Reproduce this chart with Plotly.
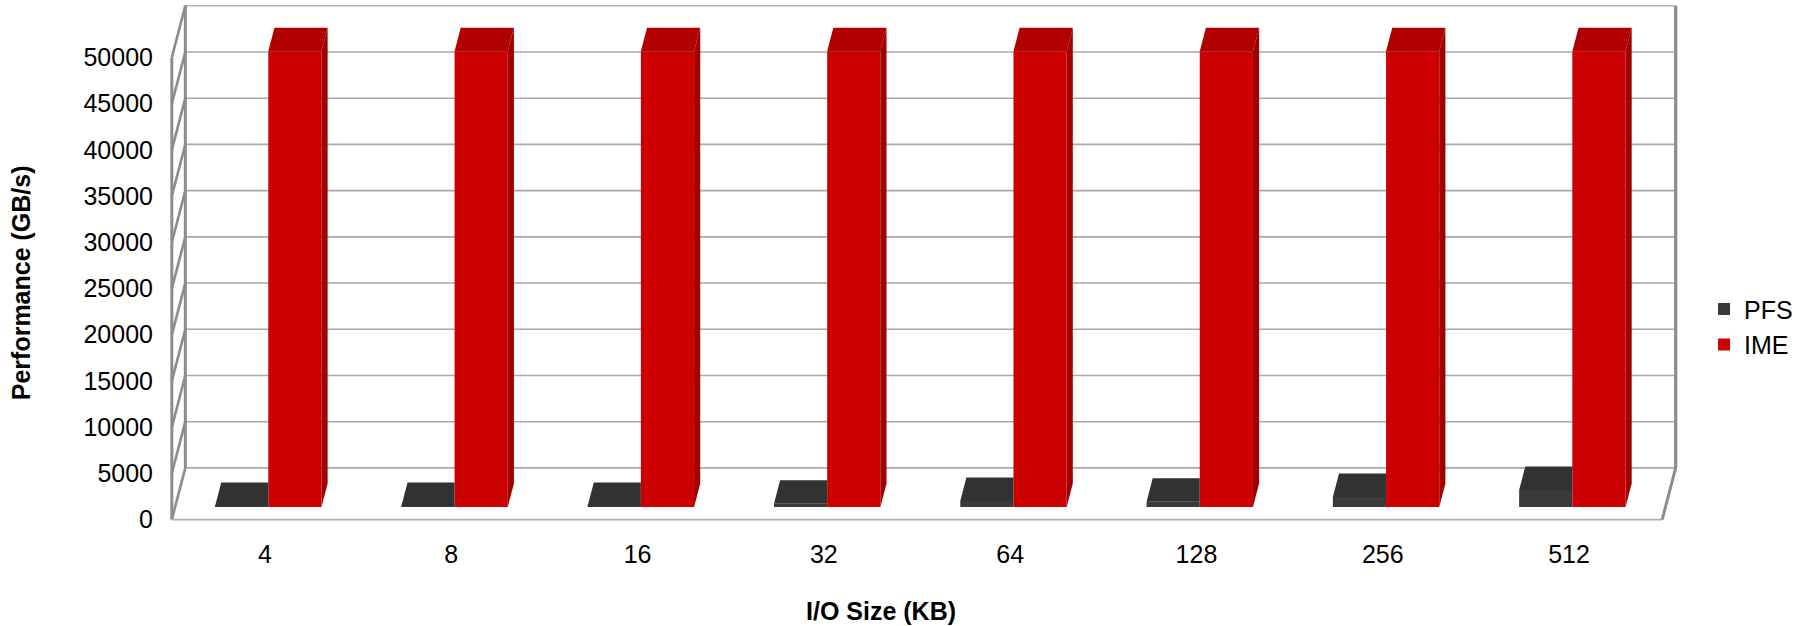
import plotly.graph_objects as go

# ---------------- data ----------------
CATEGORIES = ["4", "8", "16", "32", "64", "128", "256", "512"]
PFS = [100, 100, 110, 330, 650, 560, 1080, 1820]
IME = [49300, 49300, 49300, 49300, 49300, 49300, 49300, 49300]
Y_TICKS = [0, 5000, 10000, 15000, 20000, 25000, 30000, 35000, 40000, 45000, 50000]
SERIES_NAMES = ["PFS", "IME"]

# ---------------- geometry / style ----------------
W, H = 1810, 626
PX_PER_CAT = 186.3            # horizontal pixels per category (front plane)
PX_PER_VAL = 46.2 / 5000      # vertical pixels per value unit (front plane)
X0_PX = 264.9                 # pixel x of category 0 on front plane
Y0_PX = 519.3                 # pixel y of value 0 on front plane
DEPTH_DX = 13.5 / PX_PER_CAT  # oblique depth offset (category units) for full depth
DEPTH_DY = 51.6 / PX_PER_VAL  # oblique depth offset (value units) for full depth
F_FRONT, F_BACK = 0.245, 0.70 # depth of bar front / back faces
BAR_W = 53.2 / PX_PER_CAT
X_RANGE = [-0.585, 7.66]
Y_RANGE = [-700, 56100]
WALL_TOP = Y_TICKS[-1]

FONT = "Liberation Sans, Arial, sans-serif"
PFS_FRONT, PFS_TOP = "#3a3a3a", "#323232"
IME_FRONT, IME_TOP, IME_SIDE = "#cc0000", "#b20000", "#a00000"
WALL = "#8c8c8c"
GRID = "#aaaaaa"

l = X0_PX + X_RANGE[0] * PX_PER_CAT
plot_w = (X_RANGE[1] - X_RANGE[0]) * PX_PER_CAT
r = W - l - plot_w
t = Y0_PX - Y_RANGE[1] * PX_PER_VAL
plot_h = (Y_RANGE[1] - Y_RANGE[0]) * PX_PER_VAL
b = H - t - plot_h


def P(c, v, f):
    """oblique projection of (category, value, depth) into front-plane data coords"""
    return c + f * DEPTH_DX, v + f * DEPTH_DY


def paper_x(px):
    return (px - l) / plot_w


def paper_y(py):
    return 1 - (py - t) / plot_h


fig = go.Figure()
shapes = []


def line(p0, p1, color, width):
    shapes.append(dict(type="line", xref="x", yref="y", x0=p0[0], y0=p0[1],
                       x1=p1[0], y1=p1[1], line=dict(color=color, width=width),
                       layer="below"))


cL, cR = -0.5, len(CATEGORIES) - 0.5
# back wall gridlines
for v in Y_TICKS[:-1]:
    line(P(cL, v, 1), P(cR, v, 1), GRID, 1.6)
line(P(cL, WALL_TOP, 1), P(cR, WALL_TOP, 1), "#b8b8b8", 1.6)
# side wall slanted gridlines
for v in Y_TICKS:
    line(P(cL, v, 0), P(cL, v, 1), WALL, 2.6)
# left wall verticals
line(P(cL, 0, 0), P(cL, WALL_TOP, 0), WALL, 3)
line(P(cL, 0, 1), P(cL, WALL_TOP, 1), WALL, 3)
# right back edge
line(P(cR, 0, 1), P(cR, WALL_TOP, 1), WALL, 3.2)
# floor
line(P(cL, 0, 0), P(cR, 0, 0), "#b0b0b0", 1.8)
line(P(cR, 0, 1), P(cR, 0, 0), WALL, 3)

# ---------------- bars ----------------
half = BAR_W / 2
series = [(SERIES_NAMES[0], PFS, -half, PFS_FRONT, PFS_TOP, None),
          (SERIES_NAMES[1], IME, half, IME_FRONT, IME_TOP, IME_SIDE)]

# front faces as bar traces
for idx, (name, vals, off, cfront, ctop, cside) in enumerate(series):
    xs = [i + off + F_FRONT * DEPTH_DX for i in range(len(CATEGORIES))]
    fig.add_trace(go.Bar(
        x=xs, y=vals, base=F_FRONT * DEPTH_DY, width=BAR_W, name=name,
        marker=dict(color=cfront, line=dict(width=0)),
        legendgroup=name, customdata=CATEGORIES,
        hovertemplate=name + " %{customdata} KB: %{y}<extra></extra>"))

# top and side faces as filled polygons
for idx, (name, vals, off, cfront, ctop, cside) in enumerate(series):
    for i, v in enumerate(vals):
        xl, xr = i + off - half, i + off + half
        if cside is None:
            # left bar: top face, clipped at neighbouring bar's front face
            pts = [P(xl, v, F_FRONT), P(xr, v, F_FRONT),
                   (P(xr, v, F_FRONT)[0], P(xr, v, F_BACK)[1]), P(xl, v, F_BACK)]
        else:
            pts = [P(xl, v, F_FRONT), P(xr, v, F_FRONT), P(xr, v, F_BACK), P(xl, v, F_BACK)]
        fig.add_trace(go.Scatter(
            x=[p[0] for p in pts] + [pts[0][0]], y=[p[1] for p in pts] + [pts[0][1]],
            mode="lines", fill="toself", fillcolor=ctop, line=dict(width=0, color=ctop),
            showlegend=False, hoverinfo="skip"))
        if cside is not None:
            pts = [P(xr, 0, F_FRONT), P(xr, v, F_FRONT), P(xr, v, F_BACK), P(xr, 0, F_BACK)]
            fig.add_trace(go.Scatter(
                x=[p[0] for p in pts] + [pts[0][0]], y=[p[1] for p in pts] + [pts[0][1]],
                mode="lines", fill="toself", fillcolor=cside, line=dict(width=0, color=cside),
                showlegend=False, hoverinfo="skip"))

fig.update_layout(
    width=W, height=H,
    margin=dict(l=l, r=r, t=t, b=b, pad=0),
    paper_bgcolor="white", plot_bgcolor="white",
    barmode="overlay",
    font=dict(family=FONT, size=25, color="black"),
    shapes=shapes,
    xaxis=dict(range=X_RANGE, tickvals=list(range(len(CATEGORIES))), ticktext=CATEGORIES,
               showgrid=False, zeroline=False, showline=False,
               ticks="outside", ticklen=6, tickcolor="rgba(0,0,0,0)",
               fixedrange=True),
    yaxis=dict(range=Y_RANGE, tickvals=Y_TICKS, ticktext=[str(v) for v in Y_TICKS],
               showgrid=False, zeroline=False, showline=False, ticks="",
               ticklabelstandoff=2, fixedrange=True),
    legend=dict(x=paper_x(1704), y=paper_y(286), xanchor="left", yanchor="top",
                bgcolor="rgba(0,0,0,0)", font=dict(size=25), tracegroupgap=4,
                traceorder="normal"),
    annotations=[
        dict(text="<b>Performance (GB/s)</b>", xref="paper", yref="paper",
             x=paper_x(21), y=paper_y(283), textangle=-90, showarrow=False,
             font=dict(size=25), xanchor="center", yanchor="middle"),
        dict(text="<b>I/O Size (KB)</b>", xref="paper", yref="paper",
             x=paper_x(881), y=paper_y(611), showarrow=False,
             font=dict(size=25), xanchor="center", yanchor="middle"),
    ],
)

fig.write_html("out.html", config={"displayModeBar": False},
               post_script="document.body.style.margin='0px';")
